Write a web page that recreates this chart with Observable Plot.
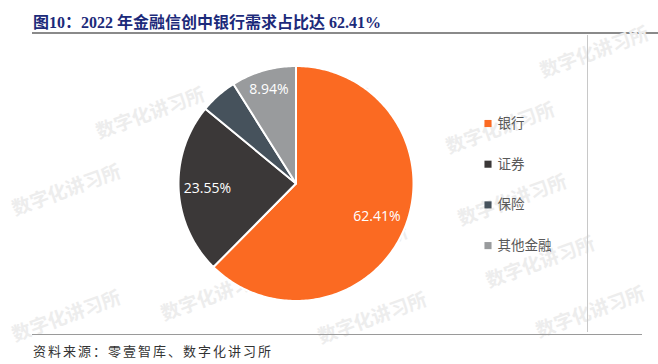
<!DOCTYPE html>
<html><head><meta charset="utf-8">
<script src="https://cdn.jsdelivr.net/npm/d3@7"></script>
<script src="https://cdn.jsdelivr.net/npm/@observablehq/plot@0.6"></script>
<style>
body{margin:0;background:#fff}
#wrap{position:relative;width:658px;height:364px;overflow:hidden;background:#fff}
#title{position:absolute;left:33px;top:9px;font-weight:bold;font-size:16px;font-family:"Liberation Serif","Noto Sans CJK SC",serif;color:#1c2a7a;white-space:nowrap}
#tline{position:absolute;left:32px;top:32px;width:626px;height:2px;background:#8a8a8a}
#chart{position:absolute;left:0;top:34px}
#bline{position:absolute;left:32px;top:334px;width:610px;height:1px;background:#9a9a9a}
#src{position:absolute;left:33px;top:341px;font-size:13px;font-family:"Noto Sans CJK SC",sans-serif;letter-spacing:2px;color:#333;white-space:nowrap}
</style></head>
<body>
<div id="wrap">
  <div id="title">图10：2022 年金融信创中银行需求占比达 62.41%</div>
  <div id="tline"></div>
  <div id="chart"></div>
  <div id="bline"></div>
  <div id="src">资料来源：零壹智库、数字化讲习所</div>
</div>
<script>
// ---- data ----
const categories = ["银行", "证券", "保险", "其他金融"];
const values = [62.41, 23.55, 5.10, 8.94];
const showLabel = [true, true, false, true];
const watermarkText = "数字化讲习所";

// ---- style / layout ----
const colors = ["#FB6A22", "#3B3838", "#46525C", "#999B9D"];
const W = 658, H = 298;
const cx = 295.5, cy = 149, R = 117.5;
const labelRadius = [0.745, 0.755, 0.75, 0.83];
const legendX = 487.5, legendY0 = 89, legendStep = 40.7;
const wmPos = [[150,113],[318,115],[594,52],[500,128],[512,200],[540,262],[340,180],[353,250],[215,295],[372,318],[590,312],[66,190],[66,316]];

const rows = categories.map((c, i) => ({cat: c, value: values[i], i}));
const arcs = d3.pie().sort(null).value(d => d.value)(rows);

const pts = [];
arcs.forEach(a => {
  const cat = a.data.cat;
  pts.push({cat, x: cx, y: cy});
  const n = Math.max(4, Math.ceil((a.endAngle - a.startAngle) * 60));
  for (let k = 0; k <= n; k++) {
    const t = a.startAngle + (a.endAngle - a.startAngle) * k / n;
    pts.push({cat, x: cx + R * Math.sin(t), y: cy - R * Math.cos(t)});
  }
  pts.push({cat, x: cx, y: cy});
});

const labels = arcs.filter(a => showLabel[a.data.i]).map(a => {
  const m = (a.startAngle + a.endAngle) / 2;
  const lr = R * labelRadius[a.data.i];
  return {x: cx + lr * Math.sin(m), y: cy - lr * Math.cos(m), text: a.data.value.toFixed(2) + "%"};
});

const legend = categories.map((c, i) => ({cat: c, x: legendX, y: legendY0 + i * legendStep}));
const wms = wmPos.map(([x, y]) => ({x, y: y - 34}));

const chart = Plot.plot({
  width: W, height: H, margin: 0,
  style: {background: "transparent", overflow: "visible"},
  x: {domain: [0, W], range: [0, W], axis: null},
  y: {domain: [0, H], range: [0, H], axis: null},
  color: {domain: categories, range: colors},
  marks: [
    Plot.text(wms, {x: "x", y: "y", text: () => watermarkText, rotate: -20, fontSize: 19, fontWeight: "bold", fill: "#ededed", fontFamily: "Noto Sans CJK SC"}),
    Plot.ruleX([587], {y1: 1, y2: H, stroke: "#c8c8c8", strokeWidth: 1}),
    Plot.line(pts, {x: "x", y: "y", z: "cat", fill: "cat", stroke: "white", strokeWidth: 2, strokeLinejoin: "round"}),
    Plot.text(labels, {x: "x", y: "y", text: "text", fill: "white", fontSize: 14, fontFamily: "Open Sans, Noto Sans, sans-serif"}),
    Plot.dot(legend, {x: "x", y: "y", symbol: "square", r: 4, fill: "cat", stroke: null}),
    Plot.text(legend, {x: d => d.x + 9.5, y: "y", text: "cat", textAnchor: "start", fill: "#595959", fontSize: 13.5, fontFamily: "Noto Sans CJK SC"})
  ]
});
document.getElementById("chart").appendChild(chart);
</script>
</body></html>
